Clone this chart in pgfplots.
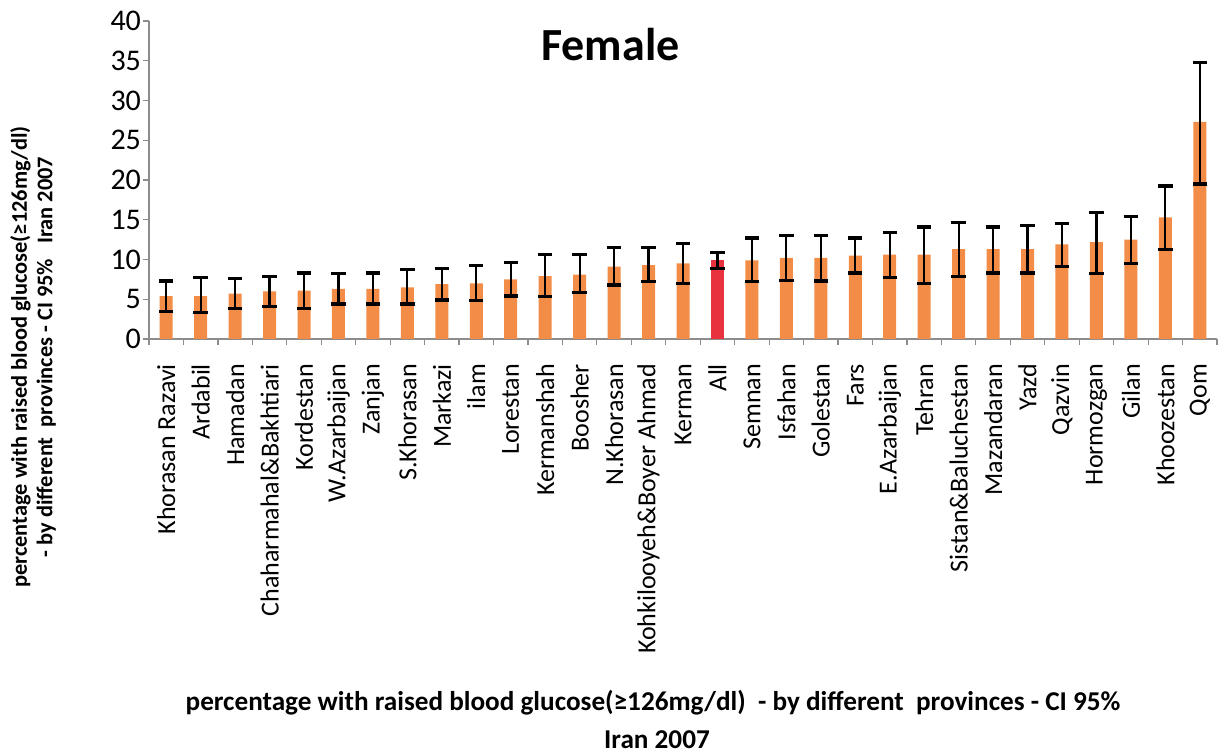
\documentclass[border=0pt]{standalone}
\usepackage{fontspec}
\setmainfont{Carlito}
\usepackage{pgfplots}
\pgfplotsset{compat=1.18}
\definecolor{barorange}{RGB}{242,140,70}
\definecolor{barred}{RGB}{232,50,62}
\definecolor{axgray}{RGB}{140,140,140}
\begin{document}
\begin{tikzpicture}
\begin{axis}[
  at={(0,0)}, anchor=south west,
  scale only axis, width=534pt, height=159pt,
  xmin=-0.5, xmax=30.5, ymin=0, ymax=40,
  axis x line*=bottom, axis y line*=left,
  axis line style={axgray, line width=0.6pt},
  every tick/.style={axgray, line width=0.6pt},
  tick align=outside,
  xtick={0,...,30},
  major x tick style={draw=none},
  minor xtick={-0.5,0.5,...,30.5},
  minor tick length=3pt,
  ytick={0,5,...,40},
  major tick length=3pt,
  /pgf/number format/assume math mode=true,
  yticklabel style={font=\fontsize{15}{17}\selectfont, xshift=2.5pt},
  xticklabel style={font=\fontsize{13}{15}\selectfont, rotate=90, anchor=east, xshift=-6pt},
  xticklabels={Khorasan Razavi, Ardabil, Hamadan, Chaharmahal\&Bakhtiari, Kordestan, W.Azarbaijan, Zanjan, S.Khorasan, Markazi, ilam, Lorestan, Kermanshah, Boosher, N.Khorasan, Kohkilooyeh\&Boyer Ahmad, Kerman, All, Semnan, Isfahan, Golestan, Fars, E.Azarbaijan, Tehran, Sistan\&Baluchestan, Mazandaran, Yazd, Qazvin, Hormozgan, Gilan, Khoozestan, Qom},
  ybar, bar width=6.5pt,
  error bars/y dir=both, error bars/y explicit,
  error bars/error bar style={black, line width=1.1pt},
  error bars/error mark options={rotate=90, mark size=3.6pt, line width=1.6pt, black},
  clip=false,
]
\addplot[draw=none, fill=barorange, bar shift=0pt] coordinates {
(0,5.4) += (0,1.9) -= (0,1.9)
(1,5.4) += (0,2.35) -= (0,2.1)
(2,5.7) += (0,1.9) -= (0,1.9)
(3,6.0) += (0,1.9) -= (0,1.9)
(4,6.1) += (0,2.2) -= (0,2.3)
(5,6.3) += (0,1.9) -= (0,1.9)
(6,6.3) += (0,2.0) -= (0,1.9)
(7,6.5) += (0,2.25) -= (0,2.1)
(8,6.9) += (0,2.0) -= (0,2.0)
(9,7.0) += (0,2.25) -= (0,2.2)
(10,7.5) += (0,2.1) -= (0,2.1)
(11,7.9) += (0,2.7) -= (0,2.6)
(12,8.1) += (0,2.5) -= (0,2.3)
(13,9.1) += (0,2.4) -= (0,2.3)
(14,9.3) += (0,2.2) -= (0,2.05)
(15,9.5) += (0,2.5) -= (0,2.5)
(17,9.9) += (0,2.8) -= (0,2.65)
(18,10.2) += (0,2.8) -= (0,2.8)
(19,10.2) += (0,2.8) -= (0,2.9)
(20,10.5) += (0,2.2) -= (0,2.2)
(21,10.6) += (0,2.8) -= (0,2.9)
(22,10.6) += (0,3.5) -= (0,3.6)
(23,11.3) += (0,3.4) -= (0,3.4)
(24,11.3) += (0,2.8) -= (0,3.0)
(25,11.3) += (0,2.95) -= (0,3.0)
(26,11.9) += (0,2.6) -= (0,2.8)
(27,12.2) += (0,3.7) -= (0,4.0)
(28,12.5) += (0,2.9) -= (0,3.0)
(29,15.3) += (0,3.95) -= (0,4.0)
(30,27.3) += (0,7.5) -= (0,7.8)
};
\addplot[draw=none, fill=barred, bar shift=0pt] coordinates {
(16,9.9) += (0,1.0) -= (0,1.0)
};
\node[font=\fontsize{23}{25}\selectfont\bfseries] at (rel axis cs:0.432,0.925) {Female};
\end{axis}
\node[rotate=90, align=center, font=\fontsize{11.2}{12.8}\selectfont\bfseries] at (-58pt,-9pt)
  {percentage with raised blood glucose(≥126mg/dl)\\ - by different\ \ provinces - CI 95\%\ \ \ Iran 2007};
\node[font=\fontsize{13.6}{15}\selectfont\bfseries] at (252pt,-182pt)
  {percentage with raised blood glucose(≥126mg/dl)\ \ - by different\ \ provinces - CI 95\%};
\node[font=\fontsize{13.6}{15}\selectfont\bfseries] at (254pt,-200.5pt) {Iran 2007};
\pgfresetboundingbox
\useasboundingbox (-74.5pt,-207pt) rectangle (538pt,169.5pt);
\end{tikzpicture}
\end{document}
